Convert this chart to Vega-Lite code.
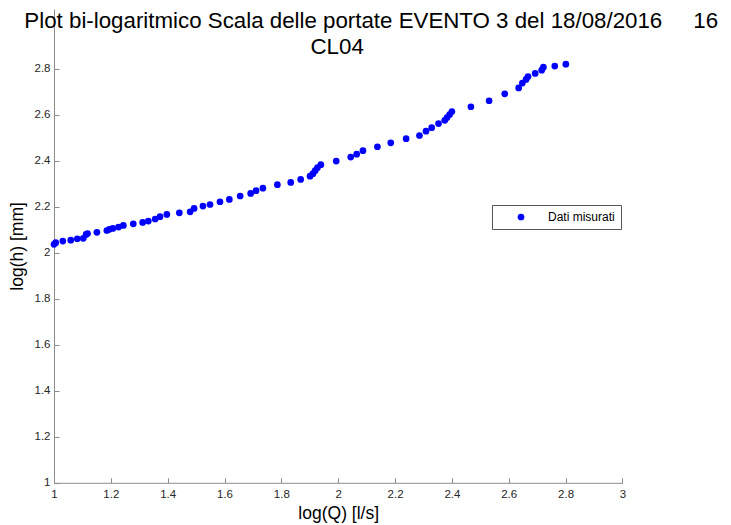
{
  "$schema": "https://vega.github.io/schema/vega-lite/v6.json",
  "width": 568.4,
  "height": 473.8,
  "autosize": {"type": "none"},
  "padding": {"left": 54, "top": 9, "right": 108.6, "bottom": 42.2},
  "background": "white",
  "title": {
    "text": ["Plot bi-logaritmico Scala delle portate EVENTO 3 del 18/08/2016\u00a0\u00a0\u00a0\u00a0\u00a016", "CL04\u00a0\u00a0\u00a0\u00a0\u00a0\u00a0\u00a0\u00a0\u00a0\u00a0\u00a0\u200b"],
    "anchor": "middle",
    "orient": "top",
    "baseline": "top",
    "offset": 0,
    "dy": 49,
    "dx": 33,
    "font": "Liberation Sans",
    "fontSize": 22.3,
    "fontWeight": "normal",
    "color": "#000000",
    "lineHeight": 26
  },
  "data": {
    "values": [
      {"logQ": 1.000, "logh": 2.037, "serie": "Dati misurati"},
      {"logQ": 1.006, "logh": 2.044, "serie": "Dati misurati"},
      {"logQ": 1.031, "logh": 2.051, "serie": "Dati misurati"},
      {"logQ": 1.059, "logh": 2.055, "serie": "Dati misurati"},
      {"logQ": 1.082, "logh": 2.061, "serie": "Dati misurati"},
      {"logQ": 1.103, "logh": 2.063, "serie": "Dati misurati"},
      {"logQ": 1.113, "logh": 2.080, "serie": "Dati misurati"},
      {"logQ": 1.118, "logh": 2.084, "serie": "Dati misurati"},
      {"logQ": 1.151, "logh": 2.089, "serie": "Dati misurati"},
      {"logQ": 1.186, "logh": 2.097, "serie": "Dati misurati"},
      {"logQ": 1.195, "logh": 2.102, "serie": "Dati misurati"},
      {"logQ": 1.207, "logh": 2.106, "serie": "Dati misurati"},
      {"logQ": 1.227, "logh": 2.112, "serie": "Dati misurati"},
      {"logQ": 1.244, "logh": 2.119, "serie": "Dati misurati"},
      {"logQ": 1.279, "logh": 2.126, "serie": "Dati misurati"},
      {"logQ": 1.312, "logh": 2.132, "serie": "Dati misurati"},
      {"logQ": 1.332, "logh": 2.138, "serie": "Dati misurati"},
      {"logQ": 1.356, "logh": 2.147, "serie": "Dati misurati"},
      {"logQ": 1.373, "logh": 2.157, "serie": "Dati misurati"},
      {"logQ": 1.397, "logh": 2.167, "serie": "Dati misurati"},
      {"logQ": 1.441, "logh": 2.174, "serie": "Dati misurati"},
      {"logQ": 1.479, "logh": 2.178, "serie": "Dati misurati"},
      {"logQ": 1.493, "logh": 2.193, "serie": "Dati misurati"},
      {"logQ": 1.524, "logh": 2.203, "serie": "Dati misurati"},
      {"logQ": 1.549, "logh": 2.210, "serie": "Dati misurati"},
      {"logQ": 1.584, "logh": 2.222, "serie": "Dati misurati"},
      {"logQ": 1.617, "logh": 2.232, "serie": "Dati misurati"},
      {"logQ": 1.655, "logh": 2.247, "serie": "Dati misurati"},
      {"logQ": 1.692, "logh": 2.258, "serie": "Dati misurati"},
      {"logQ": 1.711, "logh": 2.270, "serie": "Dati misurati"},
      {"logQ": 1.735, "logh": 2.281, "serie": "Dati misurati"},
      {"logQ": 1.786, "logh": 2.296, "serie": "Dati misurati"},
      {"logQ": 1.833, "logh": 2.306, "serie": "Dati misurati"},
      {"logQ": 1.868, "logh": 2.319, "serie": "Dati misurati"},
      {"logQ": 1.901, "logh": 2.333, "serie": "Dati misurati"},
      {"logQ": 1.911, "logh": 2.344, "serie": "Dati misurati"},
      {"logQ": 1.919, "logh": 2.357, "serie": "Dati misurati"},
      {"logQ": 1.927, "logh": 2.370, "serie": "Dati misurati"},
      {"logQ": 1.939, "logh": 2.383, "serie": "Dati misurati"},
      {"logQ": 1.993, "logh": 2.399, "serie": "Dati misurati"},
      {"logQ": 2.044, "logh": 2.416, "serie": "Dati misurati"},
      {"logQ": 2.065, "logh": 2.429, "serie": "Dati misurati"},
      {"logQ": 2.087, "logh": 2.444, "serie": "Dati misurati"},
      {"logQ": 2.138, "logh": 2.461, "serie": "Dati misurati"},
      {"logQ": 2.185, "logh": 2.478, "serie": "Dati misurati"},
      {"logQ": 2.239, "logh": 2.496, "serie": "Dati misurati"},
      {"logQ": 2.286, "logh": 2.510, "serie": "Dati misurati"},
      {"logQ": 2.309, "logh": 2.529, "serie": "Dati misurati"},
      {"logQ": 2.329, "logh": 2.544, "serie": "Dati misurati"},
      {"logQ": 2.353, "logh": 2.562, "serie": "Dati misurati"},
      {"logQ": 2.375, "logh": 2.576, "serie": "Dati misurati"},
      {"logQ": 2.383, "logh": 2.588, "serie": "Dati misurati"},
      {"logQ": 2.392, "logh": 2.601, "serie": "Dati misurati"},
      {"logQ": 2.400, "logh": 2.614, "serie": "Dati misurati"},
      {"logQ": 2.467, "logh": 2.635, "serie": "Dati misurati"},
      {"logQ": 2.531, "logh": 2.661, "serie": "Dati misurati"},
      {"logQ": 2.586, "logh": 2.691, "serie": "Dati misurati"},
      {"logQ": 2.635, "logh": 2.717, "serie": "Dati misurati"},
      {"logQ": 2.648, "logh": 2.738, "serie": "Dati misurati"},
      {"logQ": 2.661, "logh": 2.754, "serie": "Dati misurati"},
      {"logQ": 2.668, "logh": 2.766, "serie": "Dati misurati"},
      {"logQ": 2.693, "logh": 2.780, "serie": "Dati misurati"},
      {"logQ": 2.716, "logh": 2.794, "serie": "Dati misurati"},
      {"logQ": 2.722, "logh": 2.807, "serie": "Dati misurati"},
      {"logQ": 2.762, "logh": 2.812, "serie": "Dati misurati"},
      {"logQ": 2.801, "logh": 2.820, "serie": "Dati misurati"}
    ]
  },
  "mark": {"type": "point", "filled": true, "size": 45, "opacity": 1, "strokeWidth": 0},
  "encoding": {
    "x": {
      "field": "logQ",
      "type": "quantitative",
      "scale": {"domain": [1, 3], "nice": false, "zero": false},
      "axis": {
        "title": "log(Q) [l/s]",
        "values": [1, 1.2, 1.4, 1.6, 1.8, 2, 2.2, 2.4, 2.6, 2.8, 3],
        "format": "~g",
        "labelFlush": false,
        "labelOverlap": false,
        "tickSize": -5,
        "labelPadding": 11,
        "titlePadding": 4
      }
    },
    "y": {
      "field": "logh",
      "type": "quantitative",
      "scale": {"domain": [1, 3.06], "nice": false, "zero": false},
      "axis": {
        "title": "log(h) [mm]",
        "values": [1, 1.2, 1.4, 1.6, 1.8, 2, 2.2, 2.4, 2.6, 2.8],
        "format": "~g",
        "labelFlush": false,
        "labelOverlap": false,
        "tickSize": -5,
        "labelPadding": 9,
        "titlePadding": 8
      }
    },
    "color": {
      "field": "serie",
      "type": "nominal",
      "scale": {"range": ["#0000ff"]},
      "legend": {
        "title": null,
        "orient": "none",
        "legendX": 438,
        "legendY": 196,
        "padding": 6,
        "symbolOffset": 17,
        "labelOffset": 21,
        "symbolSize": 45,
        "symbolType": "circle",
        "symbolStrokeWidth": 0,
        "strokeColor": "#555555",
        "fillColor": "#ffffff",
        "labelFont": "Liberation Sans",
        "labelFontSize": 12,
        "labelColor": "#000000"
      }
    }
  },
  "config": {
    "view": {"stroke": null},
    "axis": {
      "grid": false,
      "domainColor": "#8c8c8c",
      "domainWidth": 1,
      "tickColor": "#8c8c8c",
      "tickWidth": 1,
      "labelFont": "Liberation Sans",
      "labelFontSize": 11.5,
      "labelColor": "#262626",
      "titleFont": "Liberation Sans",
      "titleFontSize": 17.5,
      "titleFontWeight": "normal",
      "titleColor": "#000000"
    }
  }
}
